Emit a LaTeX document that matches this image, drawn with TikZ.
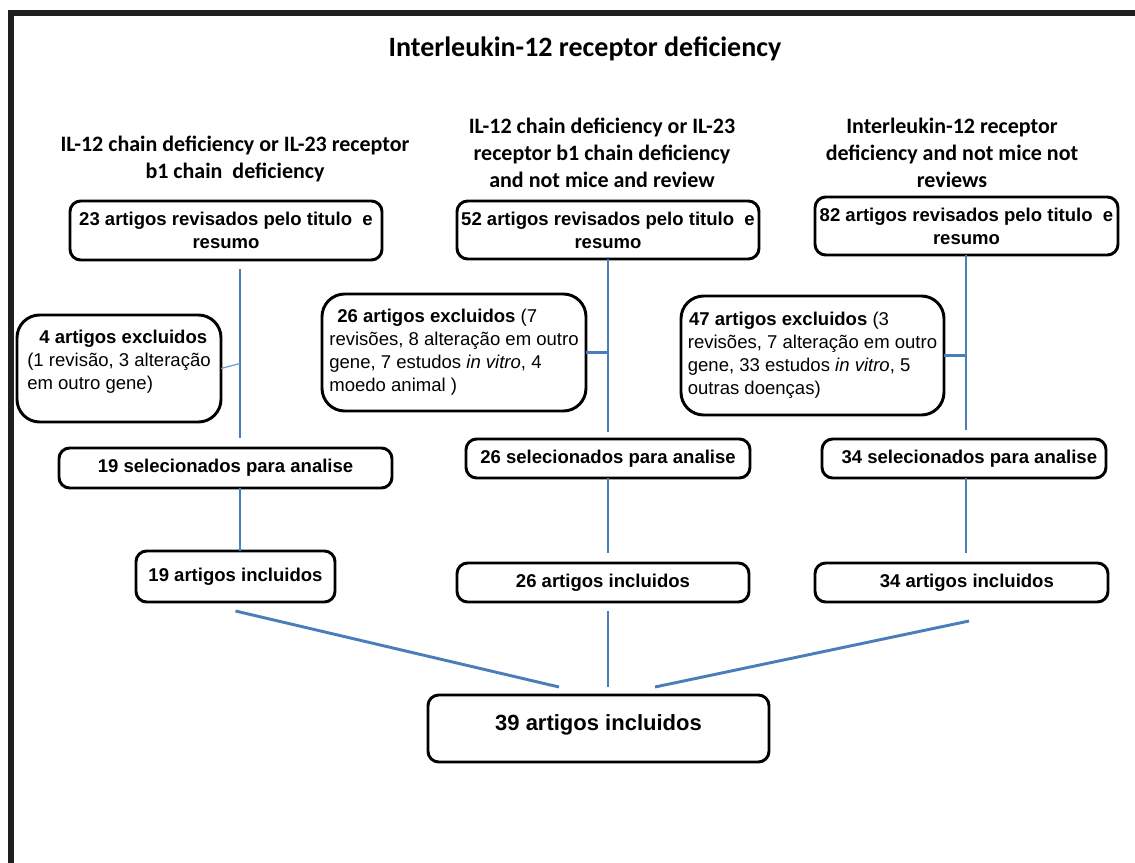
\documentclass[tikz,border=0pt]{standalone}
\usepackage{fontspec}
\setmainfont{Liberation Sans}
\newfontfamily\calibri{Carlito}
\usetikzlibrary{calc}
\definecolor{flowblue}{RGB}{74,126,187}
\definecolor{thinblue}{RGB}{105,155,205}

\begin{document}
\begin{tikzpicture}[x=0.75pt,y=-0.75pt,
  every node/.style={inner sep=0pt, outer sep=0pt},
  box/.style={draw=black, line width=2.2pt, rounded corners=8pt, fill=white,
              align=center, font={\fontsize{13.9pt}{17.25pt}\selectfont\bfseries}},
  exbox/.style={box, rounded corners=17pt, align=left,
              font={\fontsize{13.9pt}{17.25pt}\selectfont}},
  head/.style={align=center, font={\calibri\bfseries\fontsize{16.5pt}{20.25pt}\selectfont}},
  titletext/.style={font={\calibri\bfseries\fontsize{21pt}{25pt}\selectfont}},
  link/.style={draw=flowblue, line width=2.2pt},
  thinlink/.style={draw=thinblue, line width=0.9pt},
  frameline/.style={draw=black!88, line width=4.5pt}
]
\useasboundingbox (0,0) rectangle (1135,863);

% outer frame (top and left edges)
\draw[frameline] (11,863) -- (11,13) -- (1135,13);

% title and column headings
\node[titletext] (title) at (585,49) {Interleukin-12 receptor deficiency};
\node[head] (headA) at (235,158.5) {IL-12 chain deficiency or IL-23 receptor\\b1 chain\ \ deficiency};
\node[head] (headB) at (602,152.5) {IL-12 chain deficiency or IL-23\\receptor b1 chain deficiency\\and not mice and review};
\node[head] (headC) at (952,152.5) {Interleukin-12 receptor\\deficiency and not mice not\\reviews};

% screened records
\node[box, minimum width=234pt, minimum height=44.25pt] (r1a) at (226,230.5) {23 artigos revisados pelo titulo\ \ e\\resumo};
\node[box, minimum width=226.5pt, minimum height=43.5pt] (r1b) at (608,230) {52 artigos revisados pelo titulo\ \ e\\resumo};
\node[box, minimum width=227.25pt, minimum height=43.5pt] (r1c) at (966.5,226) {82 artigos revisados pelo titulo\ \ e\\resumo};

% excluded records
\node[exbox, minimum width=153pt, minimum height=80.25pt] (exa) at (119,368.5)
  {\hspace*{9pt}\textbf{4 artigos excluidos}\\(1 revisão, 3 alteração\\em outro gene)\\[-4pt]\mbox{}};
\node[exbox, minimum width=198pt, minimum height=87.75pt] (exb) at (454,352.5)
  {\hspace*{6pt}\textbf{26 artigos excluidos} (7\\revisões, 8 alteração em outro\\gene, 7 estudos \textit{in vitro}, 4\\moedo animal )};
\node[exbox, minimum width=197.25pt, minimum height=89.25pt] (exc) at (812.5,355.5)
  {\hspace*{1pt}\textbf{47 artigos excluidos} (3\\revisões, 7 alteração em outro\\gene, 33 estudos \textit{in vitro}, 5\\outras doenças)};

% selected for analysis
\node[box, minimum width=249.75pt, minimum height=30pt] (sela) at (225.5,468) {19 selecionados para analise};
\node[box, minimum width=213pt, minimum height=29.25pt] (selb) at (608,458.5) {26 selecionados para analise};
\node[box, minimum width=213pt, minimum height=29.25pt] (selc) at (964,458.5) {\hspace*{8pt}34 selecionados para analise};

% included per search
\node[box, minimum width=149.25pt, minimum height=38.25pt] (inca) at (235.5,576.5) {19 artigos incluidos};
\node[box, minimum width=219pt, minimum height=29.25pt] (incb) at (603,582.5) {26 artigos incluidos};
\node[box, minimum width=219.75pt, minimum height=29.25pt] (incc) at (961.5,582.5) {\hspace*{8pt}34 artigos incluidos};

% final total
\node[box, minimum width=255.75pt, minimum height=50.25pt,
      font={\fontsize{16.5pt}{19.8pt}\selectfont\bfseries}] (fin) at (598.5,728.5)
  {39 artigos incluidos\\[-11pt]\mbox{}};

% column axes
\coordinate (colA) at (240,0);
\coordinate (colB) at (608,0);
\coordinate (colC) at (966,0);

% vertical flow lines
\draw[link] ($(r1a.south -| colA)+(0,9)$) -- ($(sela.north -| colA)+(0,-10)$);
\draw[link] (sela.south -| colA) -- (inca.north -| colA);
\draw[link] (r1b.south -| colB) -- ($(selb.north -| colB)+(0,-7)$);
\draw[link] (selb.south -| colB) -- ($(incb.north -| colB)+(0,-10)$);
\draw[link] (r1c.south -| colC) -- ($(selc.north -| colC)+(0,-9)$);
\draw[link] (selc.south -| colC) -- ($(incc.north -| colC)+(0,-10)$);

% exclusion branches
\draw[thinlink] (exa.east) -- ($(exa.east -| colA)+(0,-5)$);
\draw[link] (exb.east) -- (exb.east -| colB);
\draw[link] (exc.east) -- (exc.east -| colC);

% merging into the final total
\draw[link] ($(inca.south)+(0,9)$) -- ($(fin.north)+(-39.5,-8)$);
\draw[link] ($(incb.south)+(5,9)$) -- ($(fin.north)+(9.5,-8)$);
\draw[link] ($(incc.south)+(7.5,19)$) -- ($(fin.north)+(56.5,-8)$);
\end{tikzpicture}
\end{document}
